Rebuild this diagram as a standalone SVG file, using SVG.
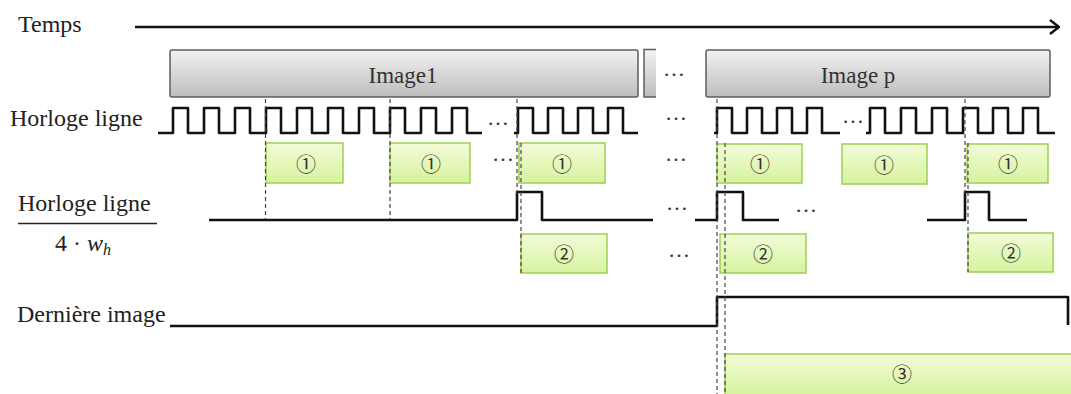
<svg xmlns="http://www.w3.org/2000/svg" width="1071" height="394" viewBox="0 0 1071 394">
<style>
.lbl{font-family:"Liberation Serif","Times New Roman",serif;fill:#222;font-size:24px}
.img{font-family:"Liberation Serif","Times New Roman",serif;fill:#333;font-size:23px;text-anchor:middle}
.dots{font-family:"Liberation Serif","Times New Roman",serif;fill:#333;font-size:22px;text-anchor:middle}
.num{font-family:"Noto Sans CJK JP","DejaVu Sans",sans-serif;fill:#333;font-size:20px;text-anchor:middle;dominant-baseline:central}
.sig{fill:none;stroke:#111;stroke-width:2.6;stroke-linejoin:round}
.dash{stroke:#444;stroke-width:1.2;stroke-dasharray:4 3;fill:none}
.gray{fill:url(#gg);stroke:#5e5e5e;stroke-width:1.5}
.green{fill:url(#gr);stroke:#9dcf52;stroke-width:1.5}
</style>
<defs>
<linearGradient id="gg" x1="0" y1="0" x2="0" y2="1">
<stop offset="0" stop-color="#f2f2f2"/><stop offset="1" stop-color="#bdbdbd"/>
</linearGradient>
<linearGradient id="gr" x1="0" y1="0" x2="0" y2="1">
<stop offset="0" stop-color="#f3fbd9"/><stop offset="1" stop-color="#d6f39d"/>
</linearGradient>
<marker id="arr" viewBox="0 0 12 16" refX="11" refY="8" markerWidth="12" markerHeight="16" markerUnits="userSpaceOnUse" orient="auto">
<polyline points="2,1 11,8 2,15" fill="none" stroke="#111" stroke-width="2.5"/>
</marker>
</defs>
<rect width="1071" height="394" fill="#fff"/>

<g id="labels">
<text class="lbl" x="18" y="32" font-size="23">Temps</text>
<text class="lbl" x="10" y="126">Horloge ligne</text>
<text class="lbl" x="18" y="211">Horloge ligne</text>
<line x1="18" y1="223.5" x2="157" y2="223.5" stroke="#222" stroke-width="1.5"/>
<text class="lbl" x="55" y="251">4 · <tspan font-style="italic">w</tspan><tspan font-style="italic" font-size="16" dy="4">h</tspan></text>
<text class="lbl" x="17" y="322">Dernière image</text>
</g>

<g id="time-axis">
<line x1="135" y1="27" x2="1059" y2="27" stroke="#111" stroke-width="2.5" marker-end="url(#arr)"/>
</g>

<g id="image1"><rect class="gray" x="170" y="50" width="468" height="47" rx="2"/><text class="img" x="403" y="83">Image1</text></g>
<g id="image-partial"><rect x="644" y="49.5" width="12" height="47.5" fill="url(#gg)"/><path d="M656,49.5 H644 V97 H656" fill="none" stroke="#5e5e5e" stroke-width="1.5"/></g>
<g id="imagep"><rect class="gray" x="706" y="50" width="344" height="47" rx="2"/><text class="img" x="858" y="83">Image p</text></g>

<g id="signals">
<path class="sig" d="M158,133 H173 V108 H188 V133 H204 V108 H219 V133 H235 V108 H250 V133 H266 V108 H281 V133 H297 V108 H312 V133 H328 V108 H343 V133 H359 V108 H374 V133 H390 V108 H405 V133 H421 V108 H436 V133 H452 V108 H467 V133 H482"/>
<path class="sig" d="M514,133 H518 V108 H533 V133 H548 V108 H563 V133 H578 V108 H593 V133 H608 V108 H623 V133 H638"/>
<path class="sig" d="M714,133 H717 V108 H732 V133 H747 V108 H762 V133 H777 V108 H792 V133 H807 V108 H822 V133 H840"/>
<path class="sig" d="M866,133 H870 V108 H885 V133 H901 V108 H916 V133 H932 V108 H947 V133 H963 V108 H978 V133 H993 V108 H1008 V133 H1023 V108 H1038 V133 H1055"/>
<path class="sig" d="M209,220 H517 V192 H542 V220 H653"/>
<path class="sig" d="M695,220 H717 V192 H743 V220 H779"/>
<path class="sig" d="M927,220 H965 V192 H989 V220 H1027"/>
<path class="sig" d="M170,326 H717 V297 H1068 V325"/>
</g>

<g id="box1-a"><rect class="green" x="266" y="143" width="77" height="40"/><text class="num" x="306" y="163">①</text></g>
<g id="box1-b"><rect class="green" x="390" y="143" width="80" height="40"/><text class="num" x="431" y="163">①</text></g>
<g id="box1-c"><rect class="green" x="519" y="143" width="86" height="40"/><text class="num" x="562" y="163">①</text></g>
<g id="box1-d"><rect class="green" x="717" y="144" width="85" height="39"/><text class="num" x="760" y="163">①</text></g>
<g id="box1-e"><rect class="green" x="842" y="144" width="85" height="40"/><text class="num" x="884" y="164">①</text></g>
<g id="box1-f"><rect class="green" x="967" y="144" width="81" height="39"/><text class="num" x="1008" y="163">①</text></g>
<g id="box2-a"><rect class="green" x="521" y="234" width="86" height="39"/><text class="num" x="564" y="253">②</text></g>
<g id="box2-b"><rect class="green" x="720" y="234" width="86" height="39"/><text class="num" x="763" y="253">②</text></g>
<g id="box2-c"><rect class="green" x="968" y="233" width="85" height="39"/><text class="num" x="1011" y="252">②</text></g>
<g id="box3"><rect class="green" x="725" y="354" width="352" height="42"/><text class="num" x="902" y="373">③</text></g>

<g id="markers">
<line class="dash" x1="265.5" y1="99" x2="265.5" y2="219"/>
<line class="dash" x1="390" y1="99" x2="390" y2="219"/>
<line class="dash" x1="517" y1="99" x2="517" y2="195"/>
<line class="dash" x1="521" y1="143" x2="521" y2="273"/>
<line class="dash" x1="717" y1="99" x2="717" y2="394"/>
<line class="dash" x1="725" y1="143" x2="725" y2="394"/>
<line class="dash" x1="965" y1="99" x2="965" y2="195"/>
<line class="dash" x1="968" y1="143" x2="968" y2="272"/>
</g>

<g id="ellipses">
<text class="dots" x="674" y="76">…</text>
<text class="dots" x="498" y="125">…</text>
<text class="dots" x="676" y="120">…</text>
<text class="dots" x="853" y="123">…</text>
<text class="dots" x="503" y="161">…</text>
<text class="dots" x="676" y="161">…</text>
<text class="dots" x="677" y="210">…</text>
<text class="dots" x="806" y="212">…</text>
<text class="dots" x="679" y="257">…</text>
</g>
</svg>
